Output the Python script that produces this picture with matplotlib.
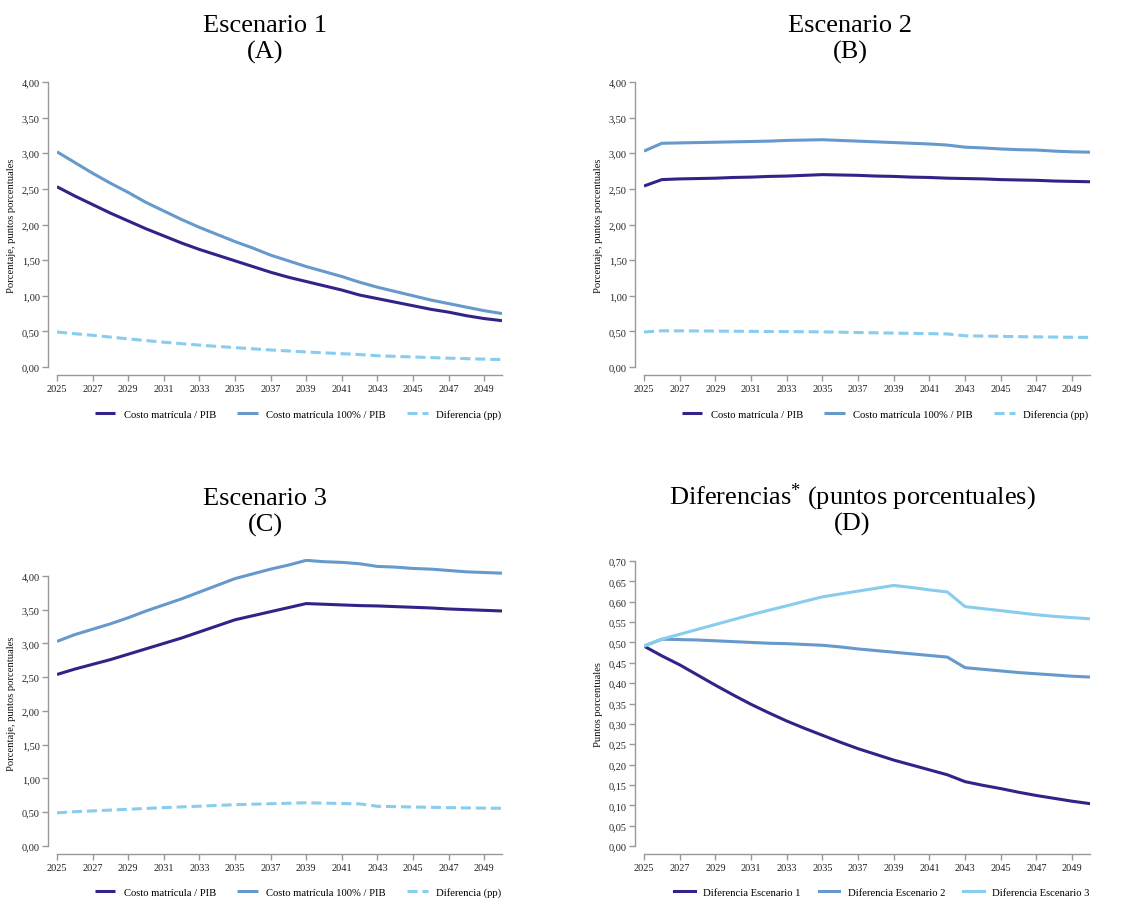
import matplotlib
matplotlib.use("Agg")
import matplotlib.pyplot as plt
from matplotlib.ticker import FuncFormatter, MultipleLocator

plt.rcParams['font.family'] = ['Liberation Serif', 'DejaVu Serif']
plt.rcParams['mathtext.fontset'] = 'custom'
plt.rcParams['mathtext.rm'] = 'Liberation Serif'
plt.rcParams['mathtext.it'] = 'Liberation Serif:italic'
plt.rcParams['mathtext.bf'] = 'Liberation Serif:bold'

years = list(range(2025, 2051))

# Escenario 1
s1_costo = [2.53, 2.40, 2.28, 2.16, 2.05, 1.94, 1.84, 1.74, 1.65, 1.57, 1.49, 1.41, 1.33,
            1.26, 1.20, 1.14, 1.08, 1.01, 0.96, 0.91, 0.86, 0.81, 0.77, 0.72, 0.68, 0.65]
s1_costo100 = [3.02, 2.87, 2.72, 2.58, 2.45, 2.31, 2.19, 2.07, 1.96, 1.86, 1.76, 1.67, 1.57,
               1.49, 1.41, 1.34, 1.27, 1.19, 1.12, 1.06, 1.00, 0.94, 0.89, 0.84, 0.79, 0.75]
s1_diff = [0.491, 0.467, 0.445, 0.420, 0.395, 0.371, 0.348, 0.327, 0.307, 0.289, 0.272, 0.255,
           0.239, 0.225, 0.211, 0.199, 0.187, 0.175, 0.158, 0.149, 0.141, 0.132, 0.124, 0.117,
           0.110, 0.104]

# Escenario 2
s2_costo = [2.54, 2.63, 2.64, 2.645, 2.65, 2.66, 2.665, 2.675, 2.68, 2.69, 2.70, 2.695, 2.69,
            2.68, 2.675, 2.665, 2.66, 2.65, 2.645, 2.64, 2.63, 2.625, 2.62, 2.61, 2.605, 2.60]
s2_costo100 = [3.03, 3.14, 3.145, 3.15, 3.155, 3.16, 3.165, 3.17, 3.18, 3.185, 3.19, 3.18, 3.17,
               3.16, 3.15, 3.14, 3.13, 3.115, 3.085, 3.075, 3.06, 3.05, 3.045, 3.03, 3.02, 3.015]
s2_diff = [0.491, 0.508, 0.507, 0.506, 0.504, 0.502, 0.500, 0.498, 0.497, 0.495, 0.493, 0.489,
           0.484, 0.480, 0.476, 0.472, 0.468, 0.464, 0.438, 0.434, 0.430, 0.426, 0.423, 0.420,
           0.417, 0.415]

# Escenario 3
s3_costo = [2.54, 2.62, 2.69, 2.76, 2.84, 2.92, 3.00, 3.08, 3.17, 3.26, 3.35, 3.41, 3.47,
            3.53, 3.59, 3.58, 3.57, 3.56, 3.555, 3.545, 3.535, 3.525, 3.51, 3.50, 3.49, 3.48]
s3_costo100 = [3.03, 3.13, 3.21, 3.29, 3.38, 3.48, 3.57, 3.66, 3.76, 3.86, 3.96, 4.03, 4.10,
               4.16, 4.23, 4.21, 4.20, 4.18, 4.14, 4.13, 4.11, 4.10, 4.08, 4.06, 4.05, 4.04]
s3_diff = [0.491, 0.508, 0.520, 0.532, 0.544, 0.556, 0.568, 0.579, 0.590, 0.601, 0.612, 0.619,
           0.626, 0.633, 0.640, 0.635, 0.629, 0.624, 0.588, 0.583, 0.578, 0.573, 0.568, 0.564,
           0.561, 0.558]

labels_main = ["Costo matrícula / PIB", "Costo matrícula 100% / PIB", "Diferencia (pp)"]
labels_diff = ["Diferencia Escenario 1", "Diferencia Escenario 2", "Diferencia Escenario 3"]
titles = [("Escenario 1", "(A)"), ("Escenario 2", "(B)"), ("Escenario 3", "(C)"),
          ("Diferencias$^{*}$ (puntos porcentuales)", "(D)")]

C_DARK = "#332288"
C_MED = "#6699CC"
C_LIGHT = "#88CCEE"
SPINE = "#999999"

W, H = 1130, 903
fig = plt.figure(figsize=(W / 100, H / 100), dpi=100)


def add_axes(left, right, top, bottom):
    return fig.add_axes([left / W, 1 - bottom / H, (right - left) / W, (bottom - top) / H])


comma = FuncFormatter(lambda v, p: f"{v:.2f}".replace(".", ","))


def style(ax, ymax_tick, ystep, ylabel, ytop):
    ax.set_xlim(2025, 2050)
    ax.set_ylim(0, ytop)
    for s in ["top", "right"]:
        ax.spines[s].set_visible(False)
    ax.spines["left"].set_position(("outward", 6.5))
    ax.spines["bottom"].set_position(("outward", 6))
    ax.spines["left"].set_bounds(0, ymax_tick)
    for s in ["left", "bottom"]:
        ax.spines[s].set_color(SPINE)
        ax.spines[s].set_linewidth(1.0)
    ax.set_xticks(list(range(2025, 2050, 2)))
    ax.set_yticks([i * ystep for i in range(int(round(ymax_tick / ystep)) + 1)])
    ax.yaxis.set_major_formatter(comma)
    ax.tick_params(axis="both", colors=SPINE, labelcolor="#222222", labelsize=7.4,
                   length=4, width=1.0, pad=2)
    ax.set_ylabel(ylabel, fontsize=7.7, color="#111111", labelpad=4)


LW = 2.2
DASH = (0, (3.3, 1.6))

panels = [
    (57, 502, 83, 368, 4.0, (s1_costo, s1_costo100, s1_diff)),
    (644, 1090, 83, 368, 4.0, (s2_costo, s2_costo100, s2_diff)),
    (57, 502, 560, 847, 4.25, (s3_costo, s3_costo100, s3_diff)),
]
leg_pos = [(298, 415), (885, 415), (298, 893)]
for (l, r, t, b, ytop, series), (lx, ly) in zip(panels, leg_pos):
    ax = add_axes(l, r, t, b)
    ax.plot(years, series[0], color=C_DARK, lw=LW, label=labels_main[0], solid_capstyle="butt")
    ax.plot(years, series[1], color=C_MED, lw=LW, label=labels_main[1], solid_capstyle="butt")
    ax.plot(years, series[2], color=C_LIGHT, lw=LW, ls=DASH, label=labels_main[2])
    style(ax, 4.0, 0.5, "Porcentaje, puntos porcentuales", ytop)
    ax.legend(loc="center", bbox_to_anchor=(lx / W, 1 - ly / H), bbox_transform=fig.transFigure,
              ncol=3, frameon=False, fontsize=7.7, handlelength=1.9, handletextpad=0.8,
              columnspacing=2.0, borderaxespad=0)

axd = add_axes(644, 1090, 562, 847)
axd.plot(years, s1_diff, color=C_DARK, lw=LW, label=labels_diff[0])
axd.plot(years, s2_diff, color=C_MED, lw=LW, label=labels_diff[1])
axd.plot(years, s3_diff, color=C_LIGHT, lw=LW, label=labels_diff[2])
style(axd, 0.70, 0.05, "Puntos porcentuales", 0.70)
axd.legend(loc="center", bbox_to_anchor=(882 / W, 1 - 893 / H), bbox_transform=fig.transFigure,
           ncol=3, frameon=False, fontsize=7.7, handlelength=1.9, handletextpad=0.8,
           columnspacing=1.7, borderaxespad=0)

title_pos = [(265, 32, 59), (850, 32, 59), (265, 505, 532), (852, 504, 531)]
for (t1, t2), (cx, y1, y2) in zip(titles, title_pos):
    fig.text(cx / W, 1 - y1 / H, t1, ha="center", va="baseline", fontsize=19, color="#000000")
    fig.text(cx / W, 1 - y2 / H, t2, ha="center", va="baseline", fontsize=19, color="#000000")

fig.savefig("out.png", dpi=100)
